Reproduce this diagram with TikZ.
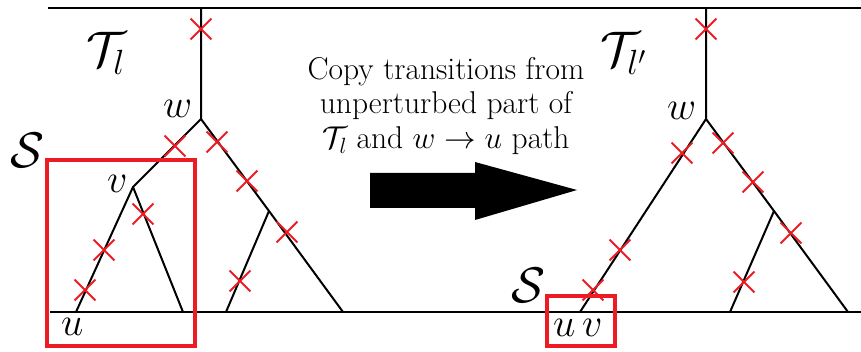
\RequirePackage{fix-cm}
\documentclass[tikz,border=0pt]{standalone}
\usetikzlibrary{shapes.misc}
\definecolor{xred}{RGB}{237,28,36}
\begin{document}
\begin{tikzpicture}[x=1pt,y=-1pt,
  edge/.style={line width=2pt},
  xmark/.style={cross out, draw=xred, line width=1.8pt, minimum size=19pt, inner sep=0pt},
  selbox/.style={draw=xred, line width=4pt},
  lab/.style={inner sep=0pt, anchor=base west, font=\fontsize{40}{44}\selectfont},
  biglab/.style={inner sep=0pt, anchor=base west, font=\fontsize{50}{55}\selectfont},
  txt/.style={inner sep=0pt, align=center, font=\fontsize{31.5}{34.5}\selectfont},
]
\useasboundingbox (0,0) rectangle (861,352);
% frame lines
\coordinate (tl) at (48,8); \coordinate (tr) at (861,8);
\coordinate (bl) at (50,312); \coordinate (br) at (861,312);
\draw[edge] (tl) -- (tr);
\draw[edge] (bl) -- (br);
% left tree
\coordinate (Lr) at (201,8);
\coordinate (Lw) at (201,119);
\coordinate (Lv) at (133,187);
\coordinate (Lu) at (76,312);
\coordinate (Lvr) at (183,312);
\coordinate (Lb) at (269,211);
\coordinate (Lbl) at (226,312);
\coordinate (Lwr) at (343,312);
\draw[edge] (Lr) -- (Lw) -- (Lv) -- (Lu);
\draw[edge] (Lv) -- (Lvr);
\draw[edge] (Lw) -- (Lb) -- (Lwr);
\draw[edge] (Lb) -- (Lbl);
% right tree
\coordinate (Rr) at (706,8);
\coordinate (Rw) at (706,119);
\coordinate (Ru) at (580,312);
\coordinate (Rb) at (774,211);
\coordinate (Rbl) at (730,312);
\coordinate (Rwr) at (848,312);
\draw[edge] (Rr) -- (Rw) -- (Ru);
\draw[edge] (Rw) -- (Rb) -- (Rwr);
\draw[edge] (Rb) -- (Rbl);
% crosses left
\node[xmark] (lx1) at (201,29) {};
\node[xmark] (lx2) at (175,146) {};
\node[xmark] (lx3) at (217,142) {};
\node[xmark] (lx4) at (247,181) {};
\node[xmark] (lx5) at (287,232) {};
\node[xmark] (lx6) at (143,214) {};
\node[xmark] (lx7) at (104,250) {};
\node[xmark] (lx8) at (85,290) {};
\node[xmark] (lx9) at (240,281) {};
% crosses right
\node[xmark] (rx1) at (706,29) {};
\node[xmark] (rx2) at (682,153) {};
\node[xmark] (rx3) at (723,143) {};
\node[xmark] (rx4) at (753,182) {};
\node[xmark] (rx5) at (791,233) {};
\node[xmark] (rx6) at (620,250) {};
\node[xmark] (rx7) at (593,290) {};
\node[xmark] (rx8) at (744,282) {};
% selection boxes
\draw[selbox] (47,160) rectangle (195,346);
\draw[selbox] (547,296) rectangle (615,346);
% labels left
\node[biglab] (LT) at (86,67) {$\mathcal{T}_l$};
\node[biglab] (LS) at (10,168) {$\mathcal{S}$};
\node[lab] (Lwl) at (163,118) {$w$};
\node[lab] (Lvl) at (107,193) {$v$};
\node[lab] (Lul) at (61,335) {$u$};
% labels right
\node[biglab] (RT) at (600,67) {$\mathcal{T}_{l'}$};
\node[biglab] (RS) at (511,302) {$\mathcal{S}$};
\node[lab] (Rwl) at (667,120) {$w$};
\node[lab] (Rul) at (553,336) {$u$};
\node[lab] (Rvl) at (582,336) {$v$};
% middle text and arrow
\node[txt] (cap) at (446,106) {Copy transitions from\\unperturbed part of\\$\mathcal{T}_l$ and $w\to u$ path};
\fill (370,173) -- (475,173) -- (475,162) -- (577,190) -- (475,220) -- (475,208) -- (370,208) -- cycle;
\end{tikzpicture}
\end{document}
